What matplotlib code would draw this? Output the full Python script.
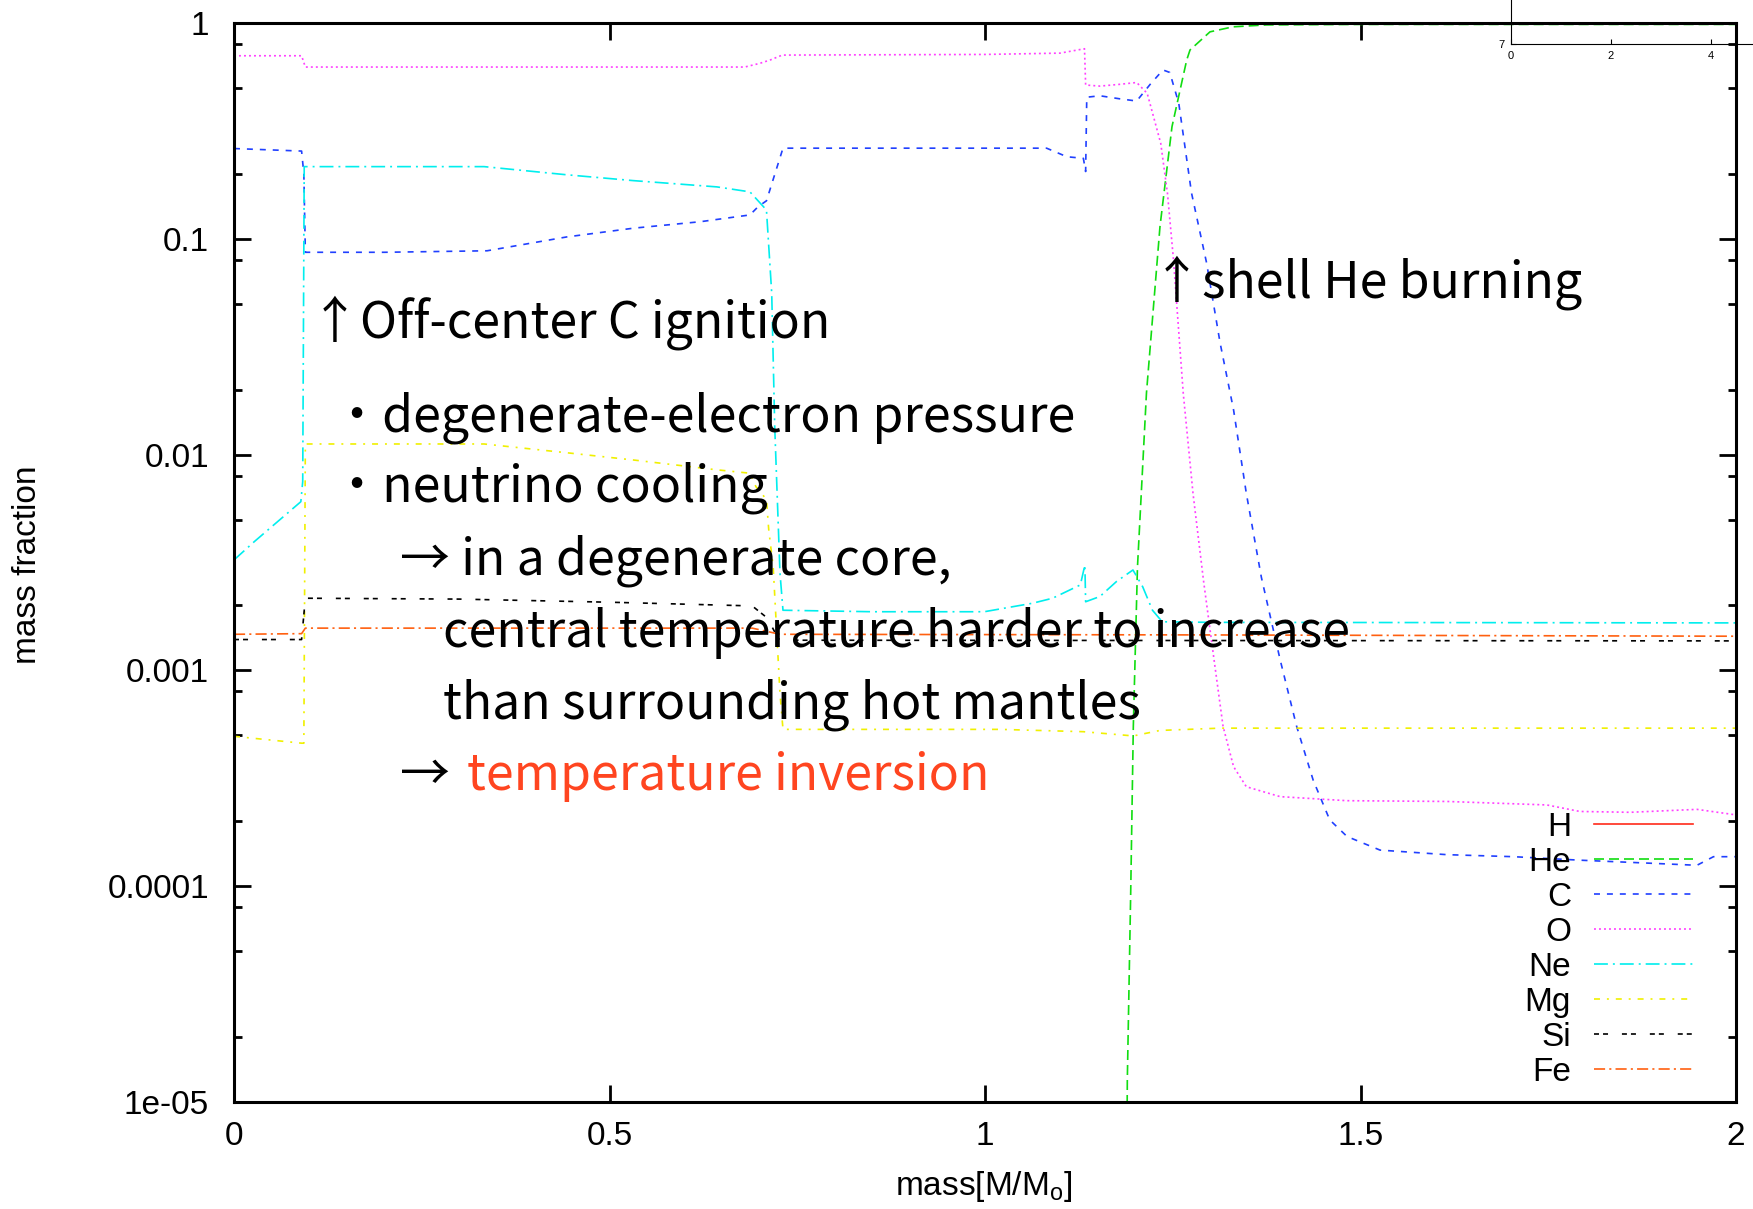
import numpy as np
import matplotlib
matplotlib.use("Agg")
import matplotlib.pyplot as plt
from matplotlib.lines import Line2D
from matplotlib.ticker import FixedLocator, LogLocator, NullFormatter

plt.rcParams['font.family'] = ['Liberation Sans', 'DejaVu Sans']
plt.rcParams['lines.scale_dashes'] = False

# Mass coordinate [M/Msun] and mass fraction of each species
m_H = [0.0, 2.0]
X_H = [1e-20, 1e-20]   # no hydrogen left anywhere

m_He = [1.186, 1.1895, 1.194, 1.1975, 1.203, 1.215, 1.233, 1.249, 1.2686, 1.273,
        1.2996, 1.33, 1.375, 1.5, 2.0]
X_He = [1e-7, 1.26e-5, 9.3e-5, 5.5e-4, 0.0030, 0.0193, 0.114, 0.331, 0.674, 0.75,
        0.91, 0.96, 0.98, 0.985, 0.985]

m_C = [0.0, 0.09, 0.093, 0.095, 0.2, 0.337, 0.443, 0.532, 0.621, 0.687, 0.698,
       0.709, 0.731, 1.082, 1.109, 1.131, 1.134, 1.1355, 1.153, 1.18, 1.202, 1.22,
       1.237, 1.246, 1.258, 1.275, 1.295, 1.313, 1.331, 1.348, 1.368, 1.393, 1.415,
       1.437, 1.459, 1.482, 1.526, 1.615, 1.704, 1.792, 1.881, 1.948, 1.97, 2.0]
X_C = [0.262, 0.255, 0.2, 0.0866, 0.0866, 0.088, 0.102, 0.112, 0.120, 0.129, 0.141,
       0.150, 0.263, 0.263, 0.24, 0.236, 0.205, 0.453, 0.46, 0.445, 0.435, 0.52,
       0.606, 0.59, 0.425, 0.163, 0.0775, 0.033, 0.0161, 0.0066, 0.0027, 0.00112, 5.5e-4,
       3.1e-4, 2.03e-4, 1.7e-4, 1.47e-4, 1.40e-4, 1.37e-4, 1.32e-4, 1.28e-4, 1.25e-4, 1.37e-4, 1.37e-4]

m_O = [0.0, 0.09, 0.095, 0.68, 0.70, 0.714, 0.73, 1.0, 1.1, 1.128, 1.1325, 1.134,
       1.153, 1.18, 1.202, 1.216, 1.234, 1.243, 1.251, 1.264, 1.277, 1.291, 1.305,
       1.317, 1.331, 1.348, 1.393, 1.482, 1.615, 1.748, 1.792, 1.859, 1.948, 2.0]
X_O = [0.705, 0.705, 0.625, 0.625, 0.65, 0.674, 0.71, 0.715, 0.725, 0.755, 0.76, 0.516,
       0.51, 0.52, 0.53, 0.472, 0.277, 0.162, 0.0798, 0.0192, 0.0066, 0.0026, 0.00112,
       5.5e-4, 3.58e-4, 2.89e-4, 2.6e-4, 2.49e-4, 2.47e-4, 2.38e-4, 2.22e-4, 2.2e-4, 2.27e-4, 2.14e-4]

m_Ne = [0.0, 0.027, 0.089, 0.0915, 0.0935, 0.333, 0.443, 0.532, 0.643, 0.687, 0.709,
        0.716, 0.72, 0.727, 0.731, 0.85, 0.999, 1.064, 1.09, 1.127, 1.133, 1.134, 1.153,
        1.175, 1.197, 1.21, 1.223, 1.236, 1.3, 2.0]
X_Ne = [0.00325, 0.00395, 0.00605, 0.0075, 0.216, 0.216, 0.198, 0.186, 0.174, 0.165, 0.136,
        0.056, 0.0135, 0.00283, 0.0019, 0.00187, 0.00187, 0.00205, 0.00216, 0.00249, 0.00308,
        0.00208, 0.0022, 0.00258, 0.00292, 0.00244, 0.0019, 0.00168, 0.00167, 0.00166]

m_Mg = [0.0, 0.09, 0.093, 0.095, 0.333, 0.443, 0.532, 0.643, 0.687, 0.695, 0.709, 0.712,
        0.718, 0.727, 0.731, 1.02, 1.131, 1.1975, 1.233, 1.313, 2.0]
X_Mg = [4.95e-4, 4.6e-4, 4.6e-4, 0.0112, 0.0112, 0.0102, 0.00944, 0.0085, 0.0082, 0.0071,
        0.0062, 0.0045, 0.0030, 7.85e-4, 5.33e-4, 5.33e-4, 5.2e-4, 4.97e-4, 5.27e-4, 5.4e-4, 5.4e-4]

m_Si = [0.0, 0.09, 0.095, 0.3, 0.5, 0.69, 0.71, 0.725, 0.735, 2.0]
X_Si = [0.00139, 0.00139, 0.00216, 0.00214, 0.00207, 0.00199, 0.00175, 0.0014, 0.00138, 0.00137]

m_Fe = [0.0, 0.09, 0.095, 0.69, 0.727, 1.3, 2.0]
X_Fe = [0.00147, 0.00148, 0.00157, 0.00157, 0.00147, 0.00146, 0.00144]

species = ['H', 'He', 'C', 'O', 'Ne', 'Mg', 'Si', 'Fe']
masses = [m_H, m_He, m_C, m_O, m_Ne, m_Mg, m_Si, m_Fe]
fractions = [X_H, X_He, X_C, X_O, X_Ne, X_Mg, X_Si, X_Fe]

# gnuplot-like colours and dash patterns (in points)
colors = ['#ff2a1a', '#11dd11', '#2040ff', '#ff40ff', '#00eeee', '#f0f000', '#000000', '#ff6010']
dashes = [None, (7.2, 3.6), (4.3, 5.0), (1.4, 2.2), (10, 3.6, 1.4, 3.6),
          (4.3, 5.0, 1.4, 5.0), (3.6, 2.9, 3.6, 10), (8, 3, 1.5, 3)]

yticks = [1e-5, 1e-4, 1e-3, 1e-2, 1e-1, 1]
ytick_labels = ['1e-05', '0.0001', '0.001', '0.01', '0.1', '1']
xticks = [0, 0.5, 1, 1.5, 2]
xtick_labels = ['0', '0.5', '1', '1.5', '2']

W, H = 1753, 1209
fig = plt.figure(figsize=(W / 100, H / 100), dpi=100)
ax = fig.add_axes([234 / W, 1 - 1102 / H, (1736 - 234) / W, (1102 - 23) / H])

for m, X, c, d in zip(masses, fractions, colors, dashes):
    ln, = ax.plot(m, X, color=c, lw=1.2)
    if d is not None:
        ln.set_dashes(d)

ax.set_yscale('log')
ax.set_xlim(0, 2)
ax.set_ylim(1e-5, 1)
ax.yaxis.set_major_locator(FixedLocator(yticks))
ax.set_yticklabels(ytick_labels)
ax.yaxis.set_minor_locator(LogLocator(base=10, subs=(2, 5, 8)))
ax.yaxis.set_minor_formatter(NullFormatter())
ax.set_xticks(xticks)
ax.set_xticklabels(xtick_labels)
ax.tick_params(which='both', direction='in', top=True, right=True, width=2, labelsize=24)
ax.tick_params(which='major', length=12)
ax.tick_params(which='minor', length=6)
ax.tick_params(axis='y', pad=18)
ax.tick_params(axis='x', pad=14)
for s in ax.spines.values():
    s.set_linewidth(2.2)

ax.set_xlabel(r'mass[M/M$_\mathregular{o}$]', fontsize=24)
ax.set_ylabel('mass fraction', fontsize=24)
ax.xaxis.set_label_coords((984 - 234) / 1502, -(1187 - 1102) / 1079)
ax.xaxis.label.set_va('center')
ax.yaxis.set_label_coords((28 - 234) / 1502, 1 - (565 - 23) / 1079)
ax.yaxis.label.set_va('center')

# legend: label on the left, line sample on the right
for i, (name, c, d) in enumerate(zip(species, colors, dashes)):
    yrow = 824.3 + 35 * i
    fig.text(1571 / W, 1 - (yrow + 11.7) / H, name, ha='right', va='baseline', fontsize=24)
    ln = Line2D([1594 / W, 1693 / W], [1 - yrow / H] * 2, transform=fig.transFigure,
                color=c, lw=1.2)
    if d is not None:
        ln.set_dashes(d)
    fig.add_artist(ln)

# annotations
jp = ['Noto Sans CJK JP', 'DejaVu Sans']
fs = 36
notes = [
    (310, 338, '↑Off-center C ignition', 'black'),
    (332, 431.7, '・degenerate-electron pressure', 'black'),
    (332, 501.7, '・neutrino cooling', 'black'),
    (400, 575, '→ in a degenerate core,', 'black'),
    (443, 647.3, 'central temperature harder to increase', 'black'),
    (443, 718.3, 'than surrounding hot mantles', 'black'),
    (400, 790, '→', 'black'),
    (467, 790, 'temperature inversion', '#ff4520'),
    (1152, 297.3, '↑shell He burning', 'black'),
]
for xp, yp, s, c in notes:
    fig.text(xp / W, 1 - yp / H, s, ha='left', va='baseline', fontsize=fs,
             family=jp, color=c)

# corner of a neighbouring panel overlapping the top right
axi = fig.add_axes([1511 / W, 1 - 44.3 / H, 300 / W, 100 / H])
axi.patch.set_visible(False)
axi.set_xlim(0, 6)
axi.set_ylim(7, 9)
axi.set_xticks([0, 2, 4])
axi.set_xticklabels(['0', '2', '4'])
axi.set_yticks([7])
axi.set_yticklabels(['7'])
axi.tick_params(direction='in', length=3.6, width=0.8, labelsize=8, pad=5)
for s in axi.spines.values():
    s.set_linewidth(0.8)

fig.savefig('out.png', dpi=100)
